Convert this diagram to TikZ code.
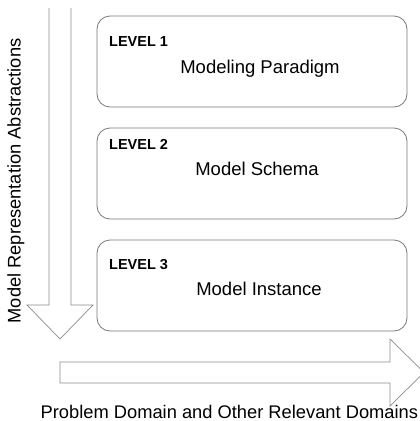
\documentclass[tikz,border=0pt]{standalone}
\usepackage{fontspec}
\setmainfont{Liberation Sans}
\usetikzlibrary{positioning}

\begin{document}
\begin{tikzpicture}[x=1pt, y=-1pt,
    levelbox/.style={draw=boxgray, line width=0.8pt, rounded corners=13pt,
        minimum width=310pt, minimum height=91pt, inner sep=0pt},
    leveltag/.style={anchor=base west, inner sep=0pt, font=\fontsize{14.5}{16}\selectfont\bfseries},
    leveltitle/.style={anchor=base, inner sep=0pt, font=\fontsize{18.5}{21}\selectfont},
    axislabel/.style={inner sep=0pt, font=\fontsize{18.3}{21}\selectfont},
    bigarrow/.style={draw=arrowgray, line width=0.7pt, line join=miter}]
    % Colori
    \definecolor{boxgray}{RGB}{120,120,120}
    \definecolor{arrowgray}{RGB}{140,140,140}

    % Area del disegno
    \useasboundingbox (0,0) rectangle (420,421);
    \clip (0,0) rectangle (420,421);

    % Freccia verticale (astrazione)
    \draw[bigarrow] (49,8) -- (49,305) -- (27,305) -- (60,339)
        -- (93,305) -- (71,305) -- (71,8);
    \node[axislabel, rotate=90] (abstr) at (16,181) {Model Representation Abstractions};

    % Livello 1
    \node[levelbox] (level1) at (252,61.5) {};
    \node[leveltag] (tag1) at (109,46) {LEVEL 1};
    \node[leveltitle] (title1) at (260,73) {Modeling Paradigm};

    % Livello 2
    \node[levelbox] (level2) at (252,173.5) {};
    \node[leveltag] (tag2) at (109,149) {LEVEL 2};
    \node[leveltitle] (title2) at (257,175) {Model Schema};

    % Livello 3
    \node[levelbox] (level3) at (252,285.5) {};
    \node[leveltag] (tag3) at (109,269) {LEVEL 3};
    \node[leveltitle] (title3) at (259,295) {Model Instance};

    % Freccia orizzontale (domini)
    \draw[bigarrow] (390,362) -- (60,362) -- (60,383) -- (390,383)
        -- (390,406) -- (424,372.5) -- (390,339) -- cycle;
    \node[axislabel, anchor=base west] (domains) at (40.5,418) {Problem Domain and Other Relevant Domains};
\end{tikzpicture}
\end{document}
